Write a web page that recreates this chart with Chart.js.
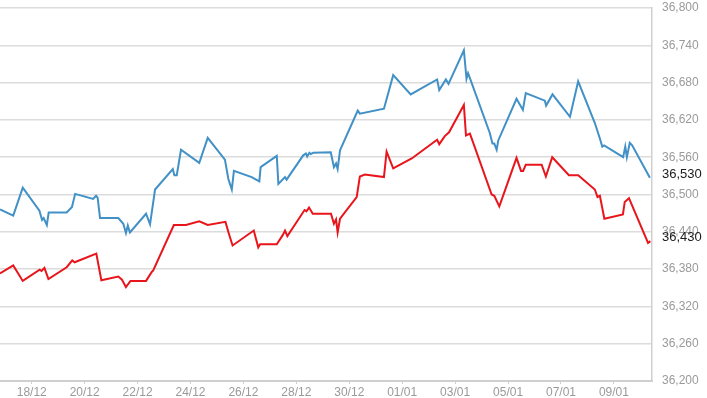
<!DOCTYPE html>
<html>
<head>
<meta charset="utf-8">
<script src="https://cdn.jsdelivr.net/npm/chart.js@4/dist/chart.umd.min.js"></script>
<style>
  html, body { margin: 0; padding: 0; background: #fff; }
  #wrap { width: 707px; height: 398px; }
</style>
</head>
<body>
<div id="wrap"><canvas id="goldChart"></canvas></div>
<script>
// x values are days counted from 18/12 (0 = 18/12, 14 = 01/01)
let tickLabels = ['18/12', '20/12', '22/12', '24/12', '26/12', '28/12', '30/12', '01/01', '03/01', '05/01', '07/01', '09/01'];

let blueDays = [-1.20, -0.70, -0.34, 0.29, 0.39, 0.45, 0.57, 0.64, 1.32, 1.52, 1.64, 2.32, 2.43, 2.49, 2.58,
  3.27, 3.46, 3.56, 3.63, 3.71, 4.32, 4.47, 4.66, 5.33, 5.39, 5.48, 5.64, 6.33, 6.65, 7.30, 7.43, 7.56, 7.64,
  8.31, 8.60, 8.65, 9.26, 9.32, 9.57, 9.63, 10.26, 10.36, 10.41, 10.49, 10.54, 10.64, 11.30, 11.42, 11.50,
  11.56, 11.65, 12.32, 12.40, 13.31, 13.66, 14.32, 15.32, 15.40, 15.65, 15.75, 16.33, 16.43, 16.49, 16.62,
  17.31, 17.41, 17.48, 17.57, 17.63, 18.32, 18.56, 18.67, 19.39, 19.44, 19.68, 20.34, 20.65, 21.28, 21.47,
  21.56, 21.63, 22.35, 22.43, 22.49, 22.60, 22.69, 23.36];
let blueValues = [36476, 36466, 36511, 36474, 36459, 36462, 36451, 36471, 36471, 36480, 36501, 36493, 36498, 36495, 36462,
  36462, 36453, 36438, 36450, 36439, 36469, 36452, 36508, 36541, 36531, 36531, 36572, 36551, 36591, 36556, 36525, 36508, 36538,
  36528, 36521, 36544, 36562, 36517, 36528, 36524, 36563, 36566, 36561, 36567, 36565, 36567, 36568, 36544, 36550,
  36541, 36571, 36635, 36630, 36638, 36692, 36661, 36685, 36668, 36685, 36678, 36732, 36686, 36695, 36680,
  36599, 36582, 36582, 36572, 36587, 36654, 36636, 36663, 36651, 36643, 36661, 36625, 36682, 36615, 36590,
  36577, 36579, 36560, 36577, 36560, 36583, 36579, 36527];

let redDays = [-1.20, -0.70, -0.34, 0.30, 0.37, 0.48, 0.63, 1.32, 1.53, 1.62, 2.44, 2.63, 3.27, 3.41, 3.56, 3.73,
  4.32, 4.53, 4.59, 5.37, 5.83, 6.33, 6.65, 7.32, 7.45, 7.59, 8.39, 8.56, 8.63, 9.26, 9.49, 9.57, 9.66, 10.31,
  10.38, 10.48, 10.62, 11.31, 11.42, 11.50, 11.56, 11.65, 12.28, 12.40, 12.59, 13.31, 13.41, 13.66, 14.36,
  15.32, 15.40, 15.61, 15.77, 16.33, 16.41, 16.56, 17.38, 17.48, 17.67, 18.32, 18.49, 18.57, 18.67, 19.27,
  19.43, 19.67, 20.30, 20.65, 21.28, 21.38, 21.47, 21.64, 22.34, 22.41, 22.57, 23.29, 23.38];
let redValues = [36373, 36386, 36361, 36379, 36377, 36382, 36364, 36383, 36394, 36391, 36405, 36362, 36368, 36363, 36351, 36361,
  36361, 36375, 36378, 36451, 36451, 36457, 36451, 36456, 36437, 36418, 36442, 36415, 36420, 36420, 36435, 36442, 36433, 36475,
  36473, 36479, 36469, 36469, 36453, 36460, 36439, 36461, 36496, 36529, 36532, 36528, 36569, 36542, 36558,
  36588, 36581, 36594, 36600, 36644, 36595, 36598, 36500, 36498, 36481, 36559, 36538, 36538, 36548, 36548,
  36529, 36560, 36531, 36531, 36508, 36496, 36498, 36461, 36468, 36488, 36494, 36422, 36425];

// latest prices shown in black on the right axis
let lastLabels = [36530, 36430];

function toPoints(days, values) {
  return days.map(function (d, i) { return { x: d, y: values[i] }; });
}

function fmt(v) {
  return Math.round(v).toLocaleString('en-US');
}

const lastPricePlugin = {
  id: 'lastPrice',
  afterDraw(chart) {
    const ctx = chart.ctx;
    const yScale = chart.scales.y;
    ctx.save();
    ctx.font = '13px "Liberation Sans", Arial, sans-serif';
    ctx.fillStyle = '#1a1a1a';
    ctx.textBaseline = 'middle';
    ctx.textAlign = 'left';
    lastLabels.forEach(function (v) {
      ctx.fillText(fmt(v), chart.chartArea.right + 10, yScale.getPixelForValue(v) - 1);
    });
    ctx.restore();
  }
};

new Chart('goldChart', {
  type: 'line',
  data: {
    datasets: [{
      label: 'Bán ra',
      data: toPoints(blueDays, blueValues),
      borderColor: '#4191c6',
      borderWidth: 2,
      pointRadius: 0,
      tension: 0,
      fill: false
    }, {
      label: 'Mua vào',
      data: toPoints(redDays, redValues),
      borderColor: '#e8161c',
      borderWidth: 2,
      pointRadius: 0,
      tension: 0,
      fill: false
    }]
  },
  options: {
    responsive: true,
    maintainAspectRatio: false,
    animation: false,
    layout: { padding: { top: 0, left: 0, right: 0, bottom: 0 } },
    plugins: {
      legend: { display: false },
      tooltip: { enabled: false }
    },
    scales: {
      x: {
        type: 'linear',
        min: -1.2,
        max: 23.44,
        grid: { display: true, drawOnChartArea: false, tickLength: 3, color: '#cfcfcf' },
        border: { display: true, color: '#cfcfcf', width: 2 },
        ticks: {
          stepSize: 2,
          includeBounds: false,
          autoSkip: false,
          maxRotation: 0,
          padding: 1,
          color: '#9a9a9a',
          font: { family: '"Liberation Sans", Arial, sans-serif', size: 12 },
          callback: function (v) {
            const i = Math.round(v / 2);
            return (Math.abs(v - i * 2) < 0.01 && tickLabels[i]) ? tickLabels[i] : '';
          }
        },
        afterFit: function (scale) {
          scale.height = 17;
          scale.paddingLeft = 0;
          scale.paddingRight = 0;
        }
      },
      y: {
        position: 'right',
        min: 36200,
        max: 36800,
        grid: { color: '#dcdcdc', lineWidth: 1.5, drawTicks: false },
        border: { display: true, color: '#cfcfcf', width: 1.5 },
        ticks: {
          stepSize: 60,
          padding: 10,
          color: '#9a9a9a',
          font: { family: '"Liberation Sans", Arial, sans-serif', size: 12 },
          callback: function (v) { return fmt(v); }
        },
        afterFit: function (scale) {
          scale.width = 55;
          scale.paddingTop = 8;
          scale.paddingBottom = 0;
        }
      }
    }
  },
  plugins: [lastPricePlugin]
});
</script>
</body>
</html>
